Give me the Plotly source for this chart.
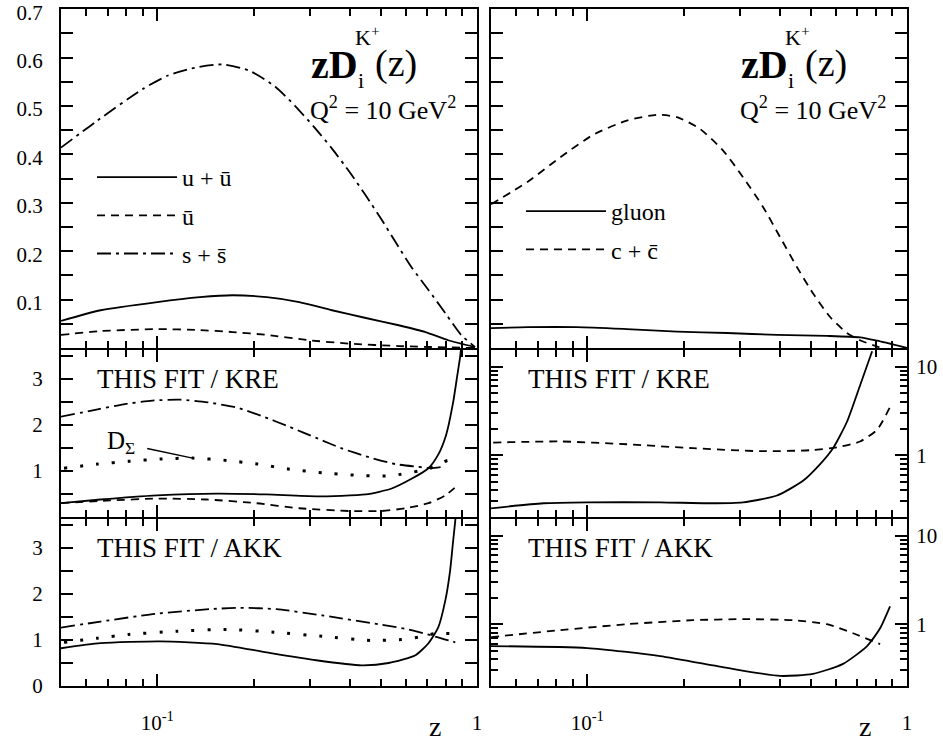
import plotly.graph_objects as go
from plotly.subplots import make_subplots

# ---- top left: zD_i^K+(z), Q^2 = 10 GeV^2 ----
z_uu = [0.05, 0.0665, 0.1, 0.136, 0.172, 0.22, 0.278, 0.352, 0.449, 0.569, 0.69, 0.813, 0.986]
D_uu = [0.056, 0.078, 0.095, 0.105, 0.109, 0.105, 0.095, 0.078, 0.062, 0.047, 0.033, 0.016, 0.002]
z_ub = [0.05, 0.0665, 0.1, 0.136, 0.172, 0.22, 0.299, 0.40, 0.569, 0.986]
D_ub = [0.027, 0.035, 0.039, 0.037, 0.033, 0.027, 0.016, 0.009, 0.004, 0.0]
z_ss = [0.05, 0.065, 0.0905, 0.108, 0.133, 0.16, 0.194, 0.234, 0.27, 0.31, 0.352,
        0.40, 0.449, 0.50, 0.556, 0.624, 0.705, 0.796, 0.892, 0.986]
D_ss = [0.414, 0.47, 0.536, 0.563, 0.58, 0.586, 0.573, 0.54, 0.50, 0.456, 0.412,
        0.363, 0.315, 0.268, 0.219, 0.167, 0.12, 0.072, 0.027, 0.002]

# ---- top right ----
z_g = [0.05, 0.065, 0.0931, 0.133, 0.191, 0.274, 0.392, 0.562, 0.713, 0.806, 1.0]
D_g = [0.041, 0.043, 0.043, 0.039, 0.034, 0.031, 0.027, 0.025, 0.022, 0.015, 0.0]
z_cc = [0.05, 0.065, 0.0823, 0.104, 0.133, 0.166, 0.191, 0.225, 0.266, 0.307, 0.355,
        0.401, 0.453, 0.508, 0.575, 0.649, 0.713, 0.783, 0.83]
D_cc = [0.297, 0.343, 0.394, 0.44, 0.47, 0.482, 0.477, 0.453, 0.408, 0.353, 0.291,
        0.229, 0.167, 0.113, 0.064, 0.031, 0.016, 0.006, 0.0]

# ---- THIS FIT / KRE, left ----
kre_z_uu = [0.05, 0.0665, 0.1, 0.154, 0.22, 0.314, 0.449, 0.541, 0.624, 0.705, 0.757, 0.801, 0.842, 0.867, 0.886, 0.895]
kre_r_uu = [0.30, 0.38, 0.47, 0.51, 0.49, 0.45, 0.49, 0.62, 0.83, 1.06, 1.36, 1.79, 2.49, 3.06, 3.49, 3.8]
kre_z_ub = [0.05, 0.0715, 0.1, 0.143, 0.204, 0.278, 0.40, 0.503, 0.598, 0.705, 0.796, 0.873]
kre_r_ub = [0.30, 0.36, 0.40, 0.38, 0.30, 0.19, 0.13, 0.13, 0.19, 0.30, 0.47, 0.70]
kre_z_ss = [0.05, 0.0651, 0.0784, 0.0965, 0.118, 0.144, 0.177, 0.213, 0.259, 0.314,
            0.378, 0.459, 0.556, 0.656, 0.719, 0.796]
kre_r_ss = [2.18, 2.34, 2.45, 2.53, 2.55, 2.49, 2.38, 2.19, 1.96, 1.72,
            1.49, 1.30, 1.15, 1.09, 1.06, 1.1]
kre_z_sig = [0.0511, 0.0651, 0.0813, 0.102, 0.129, 0.165, 0.206, 0.259, 0.328, 0.412,
             0.518, 0.58, 0.656, 0.741, 0.813, 0.842]
kre_r_sig = [1.06, 1.15, 1.21, 1.26, 1.28, 1.23, 1.15, 1.04, 0.96, 0.91,
             0.89, 0.93, 1.0, 1.1, 1.23, 1.13]
sig_ptr_z = [0.093, 0.129]
sig_ptr_r = [1.49, 1.28]

# ---- THIS FIT / KRE, right ----
kre_z_g = [0.05, 0.0729, 0.1, 0.169, 0.242, 0.307, 0.392, 0.473, 0.535, 0.587, 0.649, 0.713, 0.778]
kre_r_g = [0.251, 0.286, 0.293, 0.293, 0.286, 0.293, 0.35, 0.514, 0.794, 1.2, 2.39, 6.15, 15]
kre_z_cc = [0.0508, 0.0823, 0.133, 0.214, 0.347, 0.498, 0.604, 0.713, 0.806, 0.885]
kre_r_cc = [1.39, 1.43, 1.33, 1.20, 1.11, 1.14, 1.23, 1.43, 1.94, 3.5]

# ---- THIS FIT / AKK, left ----
akk_z_uu = [0.05, 0.0665, 0.102, 0.154, 0.22, 0.314, 0.436, 0.529, 0.642, 0.705, 0.757, 0.796, 0.824, 0.842, 0.855, 0.86]
akk_r_uu = [0.82, 0.93, 0.97, 0.91, 0.73, 0.56, 0.45, 0.50, 0.67, 0.93, 1.28, 1.86, 2.51, 3.15, 3.59, 3.8]
akk_z_ss = [0.05, 0.0665, 0.0986, 0.146, 0.181, 0.236, 0.332, 0.493, 0.611, 0.719, 0.796, 0.855]
akk_r_ss = [1.27, 1.40, 1.57, 1.67, 1.70, 1.67, 1.53, 1.34, 1.23, 1.10, 1.01, 0.95]
akk_z_sig = [0.0511, 0.0651, 0.0813, 0.115, 0.165, 0.232, 0.328, 0.465, 0.58, 0.656, 0.741, 0.824]
akk_r_sig = [0.95, 1.04, 1.12, 1.19, 1.23, 1.17, 1.08, 0.99, 1.01, 1.06, 1.14, 1.14]

# ---- THIS FIT / AKK, right ----
akk_z_g = [0.05, 0.1, 0.169, 0.274, 0.401, 0.508, 0.631, 0.75, 0.824, 0.885]
akk_r_g = [0.566, 0.537, 0.436, 0.32, 0.26, 0.274, 0.356, 0.566, 0.90, 1.59]
akk_z_cc = [0.05, 0.0823, 0.133, 0.214, 0.307, 0.44, 0.562, 0.678, 0.824]
akk_r_cc = [0.714, 0.857, 1.0, 1.11, 1.14, 1.11, 1.0, 0.79, 0.596]

FONT = "Liberation Serif"
SOLID = "solid"
DASH = "8px,6px"
DASHDOT = "14px,5px,3px,5px"
DOT = "3px,13px"

fig = make_subplots(rows=3, cols=2)


def add_line(x, y, row, col, dash, name=None, legend=None, width=1.8):
    fig.add_trace(go.Scatter(x=x, y=y, mode="lines", name=name,
                             line=dict(color="black", width=width, dash=dash, shape="spline", smoothing=0.6),
                             showlegend=name is not None, legend=legend,
                             legendgroup=name, hoverinfo="skip"),
                  row=row, col=col)


add_line(z_uu, D_uu, 1, 1, SOLID, "u + ū", "legend")
add_line(z_ub, D_ub, 1, 1, DASH, "ū", "legend")
add_line(z_ss, D_ss, 1, 1, DASHDOT, "s + s̄", "legend")

add_line(z_g, D_g, 1, 2, SOLID, "gluon", "legend2")
add_line(z_cc, D_cc, 1, 2, DASH, "c + c̄", "legend2")

add_line(kre_z_uu, kre_r_uu, 2, 1, SOLID)
add_line(kre_z_ub, kre_r_ub, 2, 1, DASH)
add_line(kre_z_ss, kre_r_ss, 2, 1, DASHDOT)
add_line(kre_z_sig, kre_r_sig, 2, 1, DOT, width=3)
add_line(sig_ptr_z, sig_ptr_r, 2, 1, SOLID, width=1.5)

add_line(kre_z_g, kre_r_g, 2, 2, SOLID)
add_line(kre_z_cc, kre_r_cc, 2, 2, DASH)

add_line(akk_z_uu, akk_r_uu, 3, 1, SOLID)
add_line(akk_z_ss, akk_r_ss, 3, 1, DASHDOT)
add_line(akk_z_sig, akk_r_sig, 3, 1, DOT, width=3)

add_line(akk_z_g, akk_r_g, 3, 2, SOLID)
add_line(akk_z_cc, akk_r_cc, 3, 2, DASH)

W, H = 943, 744
LW = 2
col_px = [(61, 477), (491, 907)]
# panels share borders: shift inner tops by the line width so the frames coincide
row_px = [(9, 348), (348 + LW, 517), (517 + LW, 686)]

axis_common = dict(showline=True, linecolor="black", linewidth=LW, mirror="ticks",
                   ticks="inside", tickcolor="black", tickwidth=1.5, showgrid=False,
                   zeroline=False, automargin=False, ticklabeloverflow="allow",
                   tickfont=dict(family=FONT, size=21, color="black"))

minor_z = [0.06, 0.07, 0.08, 0.09, 0.2, 0.3, 0.4, 0.5, 0.6, 0.7, 0.8, 0.9]
minor_log = [0.2, 0.3, 0.4, 0.5, 0.6, 0.7, 0.8, 0.9, 2, 3, 4, 5, 6, 7, 8, 9]

for r in range(3):
    for c in range(2):
        n = r * 2 + c + 1
        sx = "xaxis" if n == 1 else "xaxis%d" % n
        sy = "yaxis" if n == 1 else "yaxis%d" % n
        x0, x1 = col_px[c]
        y0, y1 = row_px[r]
        xa = dict(axis_common, type="log", range=[-1.30103, 0],
                  domain=[x0 / W, x1 / W],
                  tickmode="array", tickvals=[0.1, 1],
                  ticktext=["10<sup>-1</sup>", "1"], ticklen=12,
                  showticklabels=(r == 2), ticklabelstandoff=17,
                  minor=dict(tickmode="array", tickvals=minor_z, ticks="inside",
                             ticklen=7, tickcolor="black", tickwidth=1.5))
        ya = dict(axis_common, domain=[1 - y1 / H, 1 - y0 / H], ticklen=12)
        if r == 0:
            ya.update(range=[0, 0.7005], tickmode="array",
                      tickvals=[0.05, 0.1, 0.15, 0.2, 0.25, 0.3, 0.35, 0.4, 0.45, 0.5, 0.55, 0.6, 0.65, 0.7],
                      ticktext=["", "0.1", "", "0.2", "", "0.3", "", "0.4", "", "0.5", "", "0.6", "", "0.7"],
                      showticklabels=(c == 0), ticklabelstandoff=12, ticklabelshift=3)
        elif c == 0:
            ya.update(range=[0, 3.63], tickmode="array",
                      tickvals=[0, 0.5, 1, 1.5, 2, 2.5, 3, 3.5],
                      ticktext=["0" if r == 2 else "", "", "1", "", "2", "", "3", ""],
                      ticklabelstandoff=12)
        else:
            ya.update(type="log", range=[-0.699, 1.19], side="right", tickmode="array",
                      tickvals=[1, 10], ticktext=["1", "10"], ticklabelstandoff=3,
                      minor=dict(tickmode="array", tickvals=minor_log, ticks="inside",
                                 ticklen=7, tickcolor="black", tickwidth=1.5))
        fig.layout[sx].update(xa)
        fig.layout[sy].update(ya)

annotations = []


def note(text, xr, yr, x, y, size, xanchor="left", yanchor="middle"):
    annotations.append(dict(text=text, xref=xr, yref=yr, x=x, y=y, showarrow=False,
                            xanchor=xanchor, yanchor=yanchor,
                            font=dict(family=FONT, size=size, color="black")))


for c, (xr, yr) in enumerate([("x domain", "y domain"), ("x2 domain", "y2 domain")]):
    note("<b>zD</b>", xr, yr, 0.596, 0.837, 40)
    note("K<sup>+</sup>", xr, yr, 0.736, 0.92, 22, xanchor="center")
    note("i", xr, yr, 0.722, 0.79, 22, xanchor="center")
    note("(z)", xr, yr, 0.749, 0.838, 38)
    note("Q<sup>2</sup> = 10 GeV<sup>2</sup>", xr, yr, 0.594, 0.706, 26)

note("THIS FIT / KRE", "x3 domain", "y3 domain", 0.081, 0.824, 27)
note("THIS FIT / KRE", "x4 domain", "y4 domain", 0.084, 0.824, 27)
note("THIS FIT / AKK", "x5 domain", "y5 domain", 0.081, 0.826, 27)
note("THIS FIT / AKK", "x6 domain", "y6 domain", 0.084, 0.826, 27)
note("D<sub>Σ</sub>", "x3 domain", "y3 domain", 0.105, 0.446, 25)

note("z", "x5 domain", "paper", 0.9, 1 - 726 / H, 28, xanchor="center")
note("z", "x6 domain", "paper", 0.9, 1 - 726 / H, 28, xanchor="center")

fig.update_layout(
    width=W, height=H, autosize=False,
    margin=dict(l=0, r=0, t=0, b=0),
    paper_bgcolor="white", plot_bgcolor="white",
    font=dict(family=FONT, color="black"),
    annotations=annotations,
    legend=dict(x=92 / W, y=1 - 155 / H, xanchor="left", yanchor="top",
                bgcolor="rgba(0,0,0,0)", font=dict(family=FONT, size=24),
                tracegroupgap=4, itemwidth=80),
    legend2=dict(x=521 / W, y=1 - 189 / H, xanchor="left", yanchor="top",
                 bgcolor="rgba(0,0,0,0)", font=dict(family=FONT, size=24),
                 tracegroupgap=4, itemwidth=80),
)

fig.write_html("out.html", config={"displayModeBar": False},
               post_script="document.body.style.margin='0px';")
